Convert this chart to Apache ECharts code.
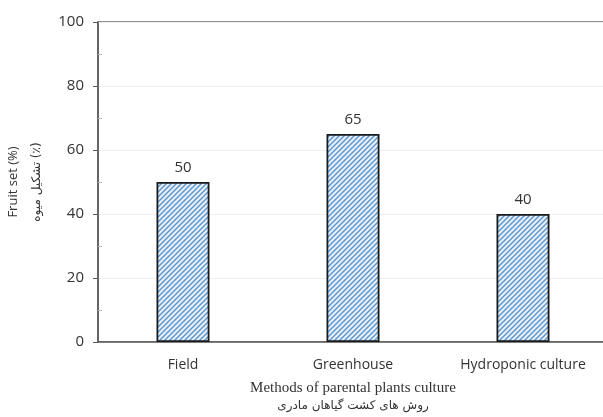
<!DOCTYPE html>
<html>
<head>
<meta charset="utf-8">
<script src="https://cdn.jsdelivr.net/npm/echarts@6/dist/echarts.min.js"></script>
<style>
  html, body { margin: 0; padding: 0; background: #fff; }
  #chart { width: 603px; height: 417px; }
</style>
</head>
<body>
<div id="chart"></div>
<script>
  // data
  const categories = ['Field', 'Greenhouse', 'Hydroponic culture'];
  const fruitSet = [50, 65, 40];
  const yTicks = [0, 20, 40, 60, 80, 100];

  // diagonal hatch used to fill the bars
  const hatch = () => {
    const c = document.createElement('canvas');
    const s = 5;
    c.width = s; c.height = s;
    const ctx = c.getContext('2d');
    ctx.fillStyle = '#e6f0fa';
    ctx.fillRect(0, 0, s, s);
    ctx.strokeStyle = '#5b93cc';
    ctx.lineWidth = 1.4;
    ctx.beginPath();
    ctx.moveTo(0, s); ctx.lineTo(s, 0);
    ctx.moveTo(-1, 1); ctx.lineTo(1, -1);
    ctx.moveTo(s - 1, s + 1); ctx.lineTo(s + 1, s - 1);
    ctx.stroke();
    return c;
  };

  const myChart = echarts.init(document.getElementById('chart'));
  const options = {
    animation: false,
    textStyle: { fontFamily: 'Open Sans' },
    grid: {
      left: 98, right: -5, top: 22, bottom: 75,
      show: true, borderColor: '#6b6b6b', borderWidth: 1.5,
      containLabel: false,
      outerBoundsMode: 'none'
    },
    xAxis: {
      type: 'category',
      data: categories,
      axisLine: { lineStyle: { color: '#595959', width: 1.5 } },
      axisTick: { show: false },
      axisLabel: { color: '#333', fontSize: 14, margin: 16, fontFamily: 'Open Sans' },
      name: '{a|Methods of parental plants culture}\n{b|روش های کشت گیاهان مادری}',
      nameLocation: 'middle',
      nameGap: 37,
      nameTextStyle: {
        rich: {
          a: { fontFamily: 'Liberation Serif', fontSize: 15, color: '#333', lineHeight: 18, align: 'center' },
          b: { fontFamily: 'DejaVu Sans', fontSize: 12, color: '#333', lineHeight: 18, align: 'center' }
        }
      }
    },
    yAxis: {
      type: 'value',
      min: 0, max: 100, interval: 20,
      axisLine: { show: true, lineStyle: { color: '#595959', width: 1.5 } },
      axisTick: { show: true, length: 5, lineStyle: { color: '#595959' } },
      minorTick: { show: true, splitNumber: 2, length: -4, lineStyle: { color: '#bbb' } },
      axisLabel: {
        color: '#333', fontSize: 15, margin: 14, fontFamily: 'Open Sans',
        formatter: v => (yTicks.includes(v) ? String(v) : '')
      },
      splitLine: { show: true, lineStyle: { color: '#eeeeee', width: 1 } },
      name: '{a|Fruit set (%)}\n{b|تشکیل میوه (٪)}',
      nameLocation: 'middle',
      nameRotate: 90,
      nameGap: 50,
      nameTextStyle: {
        rich: {
          a: { fontFamily: 'Open Sans', fontSize: 13, color: '#333', lineHeight: 23, align: 'center' },
          b: { fontFamily: 'DejaVu Sans', fontSize: 12, color: '#333', lineHeight: 23, align: 'center' }
        }
      }
    },
    series: [
      {
        type: 'bar',
        data: fruitSet,
        barWidth: 53,
        itemStyle: {
          color: { image: hatch(), repeat: 'repeat' },
          borderColor: '#1a1a1a',
          borderWidth: 1.8
        },
        label: {
          show: true, position: 'top', distance: 7,
          color: '#333', fontSize: 15, fontFamily: 'Open Sans'
        }
      }
    ]
  };
  myChart.setOption(options);
</script>
</body>
</html>
